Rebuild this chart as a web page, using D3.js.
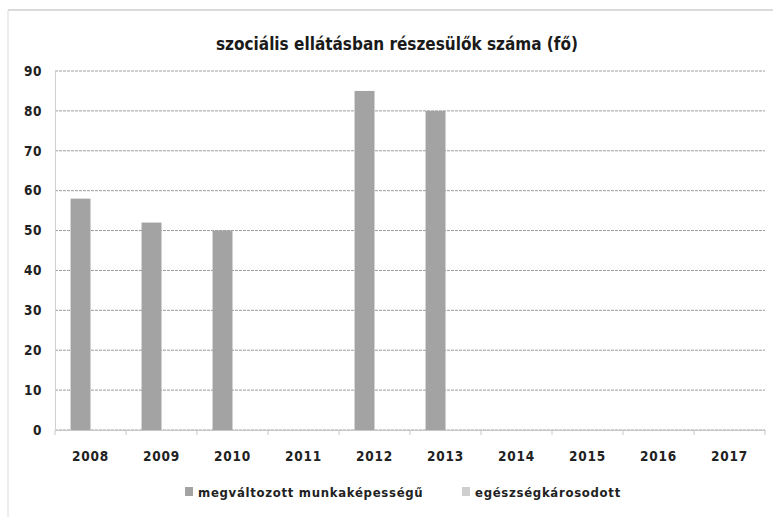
<!DOCTYPE html>
<html><head><meta charset="utf-8">
<script src="https://cdn.jsdelivr.net/npm/d3@7"></script>
<style>body{margin:0;background:#fff}svg{display:block}</style>
</head><body>
<script>
const categories = ["2008","2009","2010","2011","2012","2013","2014","2015","2016","2017"];
const seriesNames = ["megváltozott munkaképességű","egészségkárosodott"];
const seriesA = [58,52,50,0,85,80,0,0,0,0];
const seriesB = [0,0,0,0,0,0,0,0,0,0];
const yTicks = [0,10,20,30,40,50,60,70,80,90];
const title = "szociális ellátásban részesülők száma (fő)";
const colors = ["#a3a3a3","#cfcfcf"];

const W=773,H=517;
const font = "'DejaVu Sans Condensed','DejaVu Sans',sans-serif";
const svg = d3.select("body").append("svg").attr("width",W).attr("height",H);

// outer chart border
svg.append("line").attr("x1",8).attr("x2",W).attr("y1",10).attr("y2",10).attr("stroke","#b5b5b5");
svg.append("line").attr("x1",8).attr("x2",8).attr("y1",10).attr("y2",H).attr("stroke","#dcdcdc");

const m={l:55,r:765,t:71,b:430};
const x = d3.scaleBand().domain(categories).range([m.l,m.r]).paddingInner(0).paddingOuter(0);
const x1 = d3.scaleBand().domain(seriesNames).range([0,x.bandwidth()]).paddingInner(0).paddingOuter(0.78);
const y = d3.scaleLinear().domain([0,90]).range([m.b,m.t]);

svg.append("text").attr("x",397).attr("y",50).attr("text-anchor","middle")
  .attr("font-family",font).attr("font-weight","bold").attr("font-size",17).attr("fill","#1a1a1a").text(title);

// gridlines
svg.append("g").selectAll("line").data(yTicks).join("line")
  .attr("x1",m.l).attr("x2",m.r).attr("y1",d=>y(d)).attr("y2",d=>y(d))
  .attr("stroke","#9c9c9c").attr("stroke-width",1).attr("stroke-dasharray","3,1");

// y axis
const ya = svg.append("g").attr("transform",`translate(${m.l},0)`)
  .call(d3.axisLeft(y).tickValues(yTicks).tickSize(0).tickPadding(13));
ya.select(".domain").attr("stroke","#d0d0d0");
ya.selectAll("text").attr("font-family",font).attr("font-weight","bold").attr("font-size",13.5).attr("letter-spacing",0.5).attr("fill","#222");

// x axis
const xa = svg.append("g").attr("transform",`translate(0,${m.b})`)
  .call(d3.axisBottom(x).tickSize(0).tickPadding(21));
xa.select(".domain").attr("stroke","#c8c8c8");
xa.selectAll("text").attr("font-family",font).attr("font-weight","bold").attr("font-size",13.5).attr("letter-spacing",0.8).attr("fill","#222");
svg.append("g").selectAll("line").data(categories.concat(["end"])).join("line")
  .attr("x1",(d,i)=>m.l+i*x.bandwidth()).attr("x2",(d,i)=>m.l+i*x.bandwidth())
  .attr("y1",m.b).attr("y2",m.b+5).attr("stroke","#c8c8c8");

// bars
const rows = categories.map((c,i)=>({c, vals:[seriesA[i],seriesB[i]]}));
svg.append("g").selectAll("g").data(rows).join("g")
  .attr("transform",d=>`translate(${x(d.c)},0)`)
  .selectAll("rect").data(d=>d.vals.map((v,j)=>({v,s:seriesNames[j],j}))).join("rect")
  .attr("x",d=>x1(d.s)).attr("width",x1.bandwidth())
  .attr("y",d=>y(d.v)).attr("height",d=>y(0)-y(d.v)).attr("fill",d=>colors[d.j]);

// legend
const leg = [{x:185,name:seriesNames[0],c:colors[0]},{x:462,name:seriesNames[1],c:colors[1]}];
const lg = svg.append("g").selectAll("g").data(leg).join("g").attr("transform",d=>`translate(${d.x},487)`);
lg.append("rect").attr("width",8).attr("height",9).attr("fill",d=>d.c);
lg.append("text").attr("x",13).attr("y",10).attr("font-family",font).attr("font-weight","bold")
  .attr("font-size",13).attr("letter-spacing",0.7).attr("fill","#222").text(d=>d.name);
</script>
</body></html>
